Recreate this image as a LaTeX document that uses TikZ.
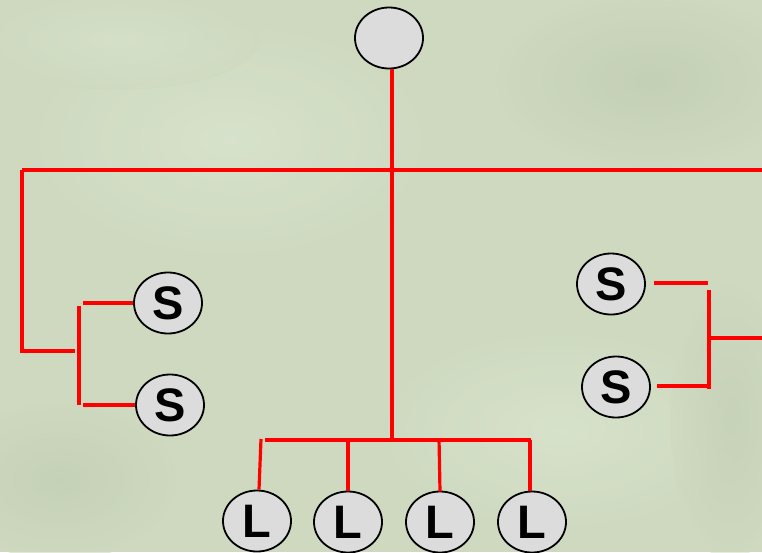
\documentclass[tikz,border=0pt]{standalone}
\usepackage{fontspec}
\setmainfont{Liberation Sans}
\usetikzlibrary{shapes.geometric}
\definecolor{bgA}{RGB}{206,217,192}
\definecolor{bgB}{RGB}{218,228,206}
\definecolor{bgC}{RGB}{192,204,178}
\definecolor{ellfill}{RGB}{220,220,220}
\definecolor{wire}{RGB}{255,0,0}
\tikzset{
  ell/.style={ellipse, draw=black, line width=1.8pt, fill=ellfill, minimum width=68pt, minimum height=61pt, inner sep=0pt, font=\fontsize{47}{47}\selectfont\bfseries},
  wirestyle/.style={draw=wire, line width=3.2pt},
}
\begin{document}
\begin{tikzpicture}[x=1pt,y=-1pt]
\useasboundingbox (0,0) rectangle (762,552);
% background
\fill[bgA] (0,0) rectangle (762,552);
\shade[inner color=bgB, outer color=bgA, opacity=0.8] (230,140) ellipse (220 and 130);
\shade[inner color=bgB, outer color=bgA, opacity=0.8] (560,430) ellipse (200 and 110);
\shade[inner color=bgC, outer color=bgA, opacity=0.7] (650,80) ellipse (160 and 90);
\shade[inner color=bgC, outer color=bgA, opacity=0.6] (60,480) ellipse (120 and 80);
\shade[inner color=bgC, outer color=bgA, opacity=0.5] (730,420) ellipse (60 and 140);
\shade[inner color=bgB, outer color=bgA, opacity=0.6] (120,40) ellipse (140 and 50);
% nodes
\node[ell] (top) at (389,38) {};
\node[ell] (ls1) at (168,303) {S};
\node[ell] (ls2) at (170,405) {S};
\node[ell] (rs1) at (611,284) {S};
\node[ell] (rs2) at (616,387) {S};
\node[ell] (l1) at (257,521) {L};
\node[ell] (l2) at (348,522) {L};
\node[ell] (l3) at (440,522) {L};
\node[ell] (l4) at (532,522) {L};
% junction coordinates
\coordinate (tbus) at (392,170);
\coordinate (tfoot) at (392,440);
\coordinate (busL) at (22,170);
\coordinate (busR) at (762,170);
\coordinate (lcorner) at (22,351);
\coordinate (lstub) at (75,351);
\coordinate (lvt) at (79,306);
\coordinate (lvb) at (79,405);
\coordinate (lh1) at (83,303);
\coordinate (lh2) at (83,405);
\coordinate (rh1) at (708,283);
\coordinate (rh2) at (709,386);
\coordinate (rvt) at (709,290);
\coordinate (rvb) at (709,389);
\coordinate (rmid) at (709,338);
\coordinate (rout) at (762,338);
\coordinate (bbL) at (265,440);
\coordinate (bbR) at (531,440);
\coordinate (d1) at (261,439);
\coordinate (d3) at (439,438);
\coordinate (d4) at (530,440);
% wires
\draw[wirestyle] (top.south -| tbus) -- (tfoot);
\draw[wirestyle] (busL) -- (busR);
\draw[wirestyle] (busL) -- (lcorner) -- (lstub);
\draw[wirestyle] (lvt) -- (lvb);
\draw[wirestyle] (lh1) -- (ls1.west);
\draw[wirestyle] (lh2) -- (ls2.west);
\draw[wirestyle] ([xshift=8pt]rs1.east |- rh1) -- (rh1);
\draw[wirestyle] ([xshift=6pt]rs2.east |- rh2) -- (rh2);
\draw[wirestyle] (rvt) -- (rvb);
\draw[wirestyle] (rmid) -- (rout);
\draw[wirestyle] (bbL) -- (bbR);
\draw[wirestyle] (d1) -- ([xshift=2pt]l1.north);
\draw[wirestyle] (l2.north |- bbL) -- (l2.north);
\draw[wirestyle] (d3) -- ([yshift=-1pt]l3.north);
\draw[wirestyle] (d4) -- ([xshift=-2pt]l4.north);
\end{tikzpicture}
\end{document}
